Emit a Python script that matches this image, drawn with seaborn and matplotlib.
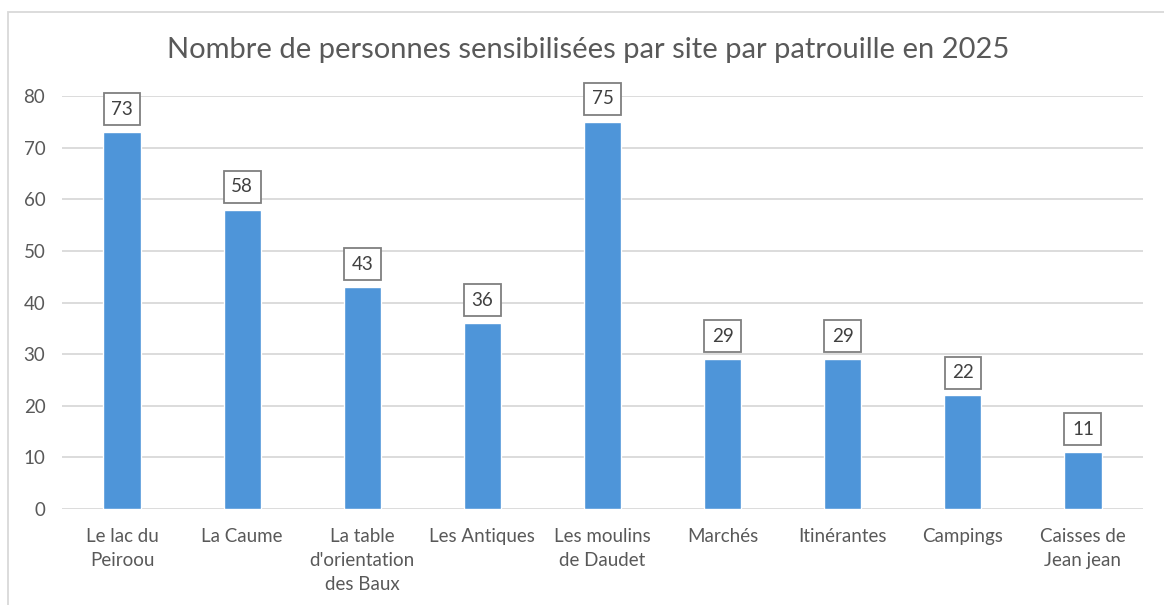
import matplotlib
matplotlib.use('Agg')
import matplotlib.pyplot as plt
import seaborn as sns
import pandas as pd
from matplotlib.patches import Rectangle

# données
sites = ["Le lac du\nPeiroou", "La Caume", "La table\nd'orientation\ndes Baux", "Les Antiques",
         "Les moulins\nde Daudet", "Marchés", "Itinérantes", "Campings", "Caisses de\nJean jean"]
personnes = [73, 58, 43, 36, 75, 29, 29, 22, 11]
yticks = [0, 10, 20, 30, 40, 50, 60, 70, 80]

df = pd.DataFrame({'site': sites, 'personnes': personnes})

sns.set_style('white')
plt.rcParams['font.family'] = ['Lato', 'DejaVu Sans']
gris = '#595959'

fig = plt.figure(figsize=(11.64, 6.05), dpi=100)
ax = fig.add_axes([0.0533, 0.1587, 0.9287, 0.6826])

sns.barplot(data=df, x='site', y='personnes', color='#4E95D9', saturation=1,
            width=0.31, ax=ax)

ax.set_ylim(0, 80)
ax.set_yticks(yticks)
ax.set_xlim(-0.5, len(sites) - 0.5)
ax.yaxis.grid(True, color='#D9D9D9', linewidth=1.3)
ax.set_axisbelow(True)
for s in ax.spines.values():
    s.set_visible(False)
ax.set_xlabel('')
ax.set_ylabel('')
ax.tick_params(axis='both', length=0, colors=gris, labelsize=13.5)
ax.tick_params(axis='x', pad=14)
ax.tick_params(axis='y', pad=12)
for lab in ax.get_xticklabels():
    lab.set_linespacing(1.5)

# étiquettes de données encadrées
for i, v in enumerate(personnes):
    ax.annotate(str(v), (i, v), xytext=(0, 16.5), textcoords='offset points',
                ha='center', va='center', fontsize=13.5, color='#404040',
                bbox=dict(boxstyle='square,pad=0.4', fc='white', ec='#7F7F7F', lw=1.3))

fig.text(0.505, 0.918, 'Nombre de personnes sensibilisées par site par patrouille en 2025',
         ha='center', va='center', fontsize=21, color=gris)

# cadre du graphique
fig.patches.append(Rectangle((8 / 1164, -0.1), 1.2, 1.1 - 12 / 605, transform=fig.transFigure,
                             fill=False, ec='#D9D9D9', lw=1.3))

fig.savefig('out.png', dpi=100)
